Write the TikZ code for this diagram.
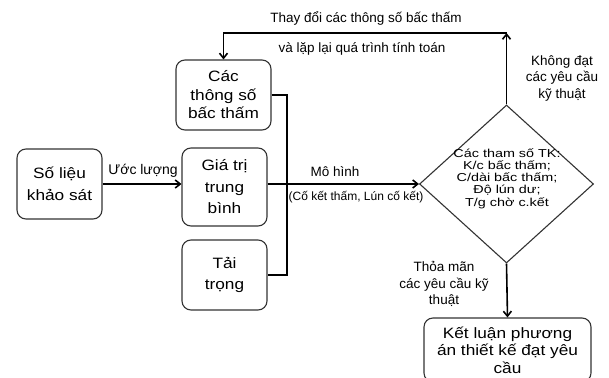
\documentclass[tikz,border=0pt]{standalone}
\usepackage{fontspec}
\setmainfont{Liberation Sans}
\newfontfamily\widefont{Liberation Sans}[FakeStretch=1.15]
\newfontfamily\diafont{Liberation Sans}[FakeStretch=1.25]
\usetikzlibrary{arrows.meta,shapes.geometric}
\definecolor{boxgray}{HTML}{333333}
\begin{document}
\begin{tikzpicture}[x=1pt,y=-1pt,
  box/.style={draw=boxgray, line width=1.1pt, rounded corners=9pt, align=center, inner sep=2pt},
  conn/.style={line width=1.6pt, black},
  arr/.style={conn, -{Straight Barb[length=5pt,width=8pt]}},
  lbl/.style={font=\fontsize{13.5}{16.5}\selectfont, align=center, inner sep=0pt}]
\useasboundingbox (0,0) rectangle (609,377);

% process boxes
\node[box, minimum width=85pt, minimum height=70pt, font=\widefont\fontsize{15}{22}\selectfont] (survey) at (59.5,184) {Số liệu\\khảo sát};
\node[box, minimum width=85pt, minimum height=78pt, font=\widefont\fontsize{15}{21.5}\selectfont] (avg) at (224.5,187) {Giá trị\\trung\\bình};
\node[box, minimum width=95pt, minimum height=70pt, font=\widefont\fontsize{15}{18.5}\selectfont] (params) at (223.5,95) {Các\\thông số\\bấc thấm};
\node[box, minimum width=85pt, minimum height=70pt, font=\widefont\fontsize{15}{21}\selectfont] (load) at (224.5,275) {Tải\\trọng};
\node[box, minimum width=167pt, minimum height=64pt, font=\widefont\fontsize{15}{17.5}\selectfont] (concl) at (507.5,350) {Kết luận phương\\án thiết kế đạt yêu\\cầu};

% decision
\node[draw=boxgray, line width=1.1pt, diamond, minimum width=174pt, minimum height=158pt, inner sep=0pt] (check) at (506.5,184) {};
\node[font=\diafont\fontsize{11.5}{12.2}\selectfont, align=center, inner sep=0pt] (checktext) at (507,178.5) {Các tham số TK:\\K/c bấc thấm;\\C/dài bấc thấm;\\Độ lún dư;\\T/g chờ c.kết};

% connectors
\draw[arr] (survey.east) -- (survey.east -| avg.west);
\draw[arr] (avg.east |- check.west) -- (check.west);
\coordinate (bus) at (287,0);
\draw[conn] (params.east) -- (params.east -| bus) -- (bus |- load.east) -- (load.east);
\coordinate (loopR) at (506.5,33);
\draw[arr] (check.north) -- (loopR);
\draw[arr] (loopR) -| (params.north);
\draw[arr] (check.south) -- (concl.north);

% labels
\node[lbl, font=\fontsize{14}{16}\selectfont] (estlbl) at (143,171) {Ước lượng};
\node[lbl, font=\fontsize{13.5}{16}\selectfont] (modlbl) at (335,172) {Mô hình};
\node[lbl, font=\fontsize{12}{14}\selectfont] (modsub) at (356,197) {(Cố kết thấm, Lún cố kết)};
\node[lbl] (fbtop) at (366,18) {Thay đổi các thông số bấc thấm};
\node[lbl] (fbbot) at (362,49) {và lặp lại quá trình tính toán};
\node[lbl] (faillbl) at (562,78) {Không đạt\\các yêu cầu\\kỹ thuật};
\node[lbl] (passlbl) at (444,284) {Thỏa mãn\\các yêu cầu kỹ\\thuật};
\end{tikzpicture}
\end{document}
